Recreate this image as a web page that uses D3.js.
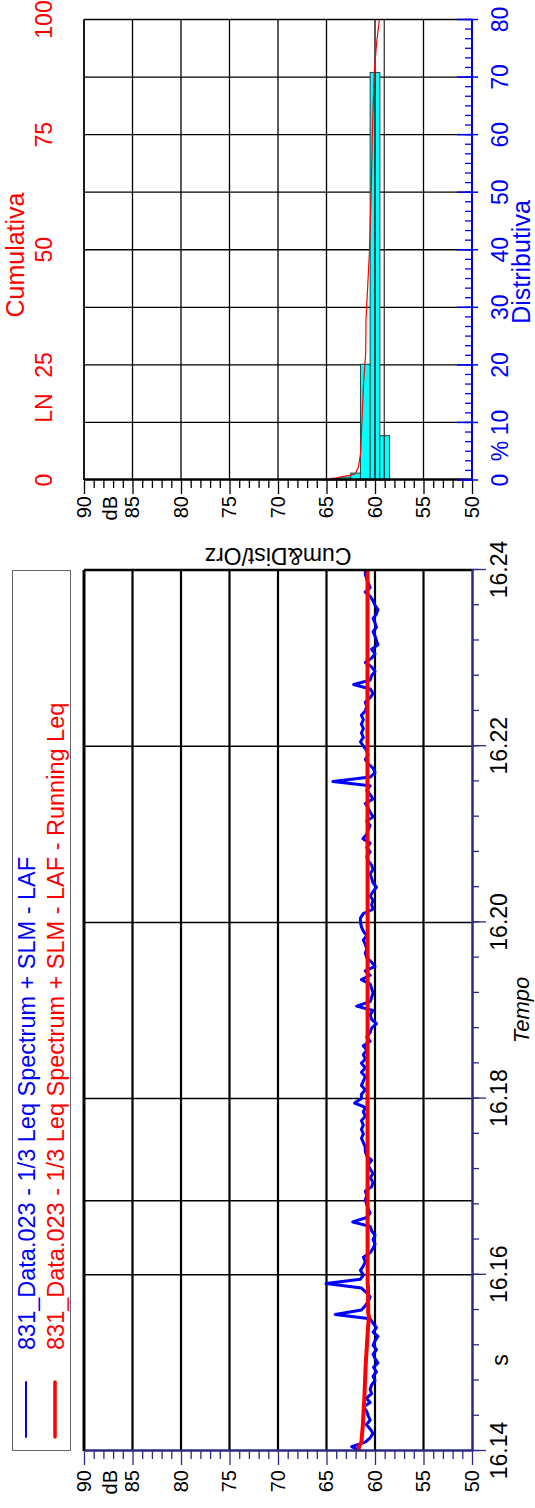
<!DOCTYPE html>
<html>
<head>
<meta charset="utf-8">
<script src="https://cdn.jsdelivr.net/npm/d3@7"></script>
<style>
  body { margin: 0; background: #fff; }
  text { font-family: Arial, "Liberation Sans", sans-serif; }
</style>
</head>
<body>
<svg id="chart" width="535" height="1508"></svg>
<script>
// ---- data ----
var dbTicks = [90, 85, 80, 75, 70, 65, 60, 55, 50]
var timeTicks = [16.14, 16.16, 16.18, 16.20, 16.22, 16.24]
var timeGrid = [16.16, 16.1684, 16.18, 16.20, 16.22]
var pctTicks = [0, 10, 20, 30, 40, 50, 60, 70, 80]
var lnTicks = [0, 25, 50, 75, 100]

// LAF, one sample every 0.0005 from 16.14
var lafStart = 16.14
var lafStep = 0.0005
var lafValues = [
  61.5, 62.4, 61.0, 60.5, 60.2, 60.5, 60.9, 60.5, 60.7, 60.85,
  61.2, 60.5, 60.9, 60.35, 60.5, 60.35, 60.0, 60.2, 59.85, 60.15,
  59.7, 60.0, 60.2, 59.85, 60.2, 60.0, 59.7, 60.2, 59.85, 60.2,
  60.5, 64.1, 61.4, 61.0, 60.7, 60.5, 60.9, 61.4, 65.05, 61.5,
  61.2, 61.5, 61.2, 61.0, 61.2, 60.5, 60.2, 60.0, 60.2, 60.0,
  60.35, 60.5, 62.3, 60.85, 60.5, 60.7, 60.85, 61.0, 60.85, 61.0,
  60.35, 60.2, 60.5, 60.2, 60.5, 60.7, 60.35, 60.85, 61.0, 61.0,
  61.2, 61.4, 61.2, 61.4, 61.2, 61.4, 61.0, 61.2, 61.0, 62.1,
  61.4, 61.4, 61.0, 61.4, 61.2, 61.0, 61.4, 61.0, 61.4, 61.0,
  61.2, 60.85, 61.2, 60.5, 60.85, 60.5, 60.35, 59.85, 60.35, 60.5,
  60.2, 61.9, 60.5, 60.35, 60.2, 60.35, 60.5, 61.4, 60.5, 61.0,
  60.0, 60.35, 60.85, 61.0, 60.85, 61.0, 61.2, 60.85, 61.2, 61.4,
  61.5, 61.5, 61.2, 60.2, 60.35, 60.2, 60.5, 60.2, 59.85, 60.2,
  60.35, 60.5, 60.2, 60.35, 60.7, 60.85, 60.5, 60.85, 60.5, 61.25,
  60.85, 60.7, 60.5, 60.85, 60.2, 60.5, 60.7, 61.0, 60.2, 60.5,
  60.85, 60.5, 64.35, 60.5, 60.0, 60.2, 60.7, 61.0, 60.7, 60.85,
  61.2, 61.5, 61.2, 61.4, 61.2, 61.4, 61.2, 61.4, 61.0, 60.85,
  61.0, 60.5, 60.2, 60.5, 62.2, 60.5, 60.35, 60.0, 60.35, 61.0,
  60.35, 60.0, 60.35, 59.7, 59.85, 60.0, 60.2, 59.85, 60.0, 60.2,
  59.85, 59.7, 60.0, 60.2, 60.5, 61.0, 60.5, 60.7, 60.85, 61.0,
  61.0
]

// Running Leq
var leqTimes = [16.14, 16.1405, 16.141, 16.143, 16.146, 16.150, 16.154, 16.1553, 16.1556, 16.1586, 16.159, 16.162, 16.18, 16.20, 16.22, 16.24]
var leqValues = [61.7, 61.65, 61.4, 61.25, 61.1, 60.95, 60.72, 60.62, 60.7, 60.72, 60.76, 60.76, 60.77, 60.76, 60.78, 60.77]

// distribution (1 dB classes) and cumulative LN
var binHigh = [65.5, 64.5, 63.5, 62.5, 61.5, 60.5, 59.5]
var binLow = [64.5, 63.5, 62.5, 61.5, 60.5, 59.5, 58.5]
var binPct = [0.1, 0.3, 0.5, 1.2, 20.1, 70.8, 7.7]
var cumDb = [65.05, 64.0, 63.5, 62.6, 62.06, 61.72, 61.48, 61.2, 60.96, 60.93, 60.58, 60.38, 60.24, 60.07, 59.83, 59.55]
var cumLn = [0, 0.4, 0.7, 1.0, 1.3, 2.7, 5.8, 20.3, 27.5, 34.7, 49.2, 63.7, 78.2, 88.7, 95.0, 100]

var cursorTime = 16.1684
var cursorDb = 59.05

// ---- layout: drawn landscape, then turned a quarter turn ----
var W = 1508
var navy = '#2a2a86'
var svg = d3.select('#chart')
var g = svg.append('g').attr('transform', 'translate(0,' + W + ') rotate(-90)')

var y = d3.scaleLinear().domain([90, 50]).range([84, 472])
var xT = d3.scaleLinear().domain([16.14, 16.24]).range([57, 938])
var xP = d3.scaleLinear().domain([0, 80]).range([1028, 1488.5])
var xL = d3.scaleLinear().domain([0, 100]).range([1028, 1488.5])

// ****************** legend ******************
g.append('rect')
  .attr('x', 57.5).attr('y', 12.5).attr('width', 880).attr('height', 58)
  .attr('fill', 'none').attr('stroke', '#666').attr('stroke-width', 1)

var legend = [
  { color: '#0000ff', w: 2, y: 26, label: '831_Data.023 - 1/3 Leq Spectrum + SLM - LAF' },
  { color: '#ff0000', w: 3.5, y: 55, label: '831_Data.023 - 1/3 Leq Spectrum + SLM - LAF - Running Leq' }
]
legend.forEach(function (d) {
  g.append('line').attr('x1', 71).attr('x2', 126).attr('y1', d.y).attr('y2', d.y)
    .attr('stroke', d.color).attr('stroke-width', d.w).attr('stroke-linecap', 'round')
  g.append('text').attr('x', 158).attr('y', d.y + 8.5)
    .attr('fill', d.color).attr('font-size', 23.5).text(d.label)
})

// ****************** left plot (time history) ******************
var left = g.append('g')

left.selectAll('line.tgrid').data(timeGrid).enter().append('line')
  .attr('x1', function (d) { return xT(d) }).attr('x2', function (d) { return xT(d) })
  .attr('y1', 84).attr('y2', 472)
  .attr('stroke', '#000').attr('stroke-width', 1.5)

left.selectAll('line.dgrid').data(dbTicks.slice(1, -1)).enter().append('line')
  .attr('x1', 57).attr('x2', 938)
  .attr('y1', function (d) { return y(d) }).attr('y2', function (d) { return y(d) })
  .attr('stroke', '#000').attr('stroke-width', 2.2)

left.append('clipPath').attr('id', 'clipL').append('rect')
  .attr('x', 57).attr('y', 84).attr('width', 881).attr('height', 388)

var laf = lafValues.map(function (v, i) { return [lafStart + i * lafStep, v] })
var line = d3.line().x(function (d) { return xT(d[0]) }).y(function (d) { return y(d[1]) })

left.append('path').datum(laf)
  .attr('clip-path', 'url(#clipL)')
  .attr('d', line).attr('fill', 'none')
  .attr('stroke', '#0000ff').attr('stroke-width', 3).attr('stroke-linejoin', 'round')

var leq = leqTimes.map(function (t, i) { return [t, leqValues[i]] })
left.append('path').datum(leq)
  .attr('clip-path', 'url(#clipL)')
  .attr('d', line).attr('fill', 'none')
  .attr('stroke', '#ff0000').attr('stroke-width', 4).attr('stroke-linejoin', 'round')

// frame
left.append('line').attr('x1', 57).attr('x2', 938).attr('y1', 84).attr('y2', 84)
  .attr('stroke', '#000').attr('stroke-width', 3)
left.append('line').attr('x1', 938).attr('x2', 938).attr('y1', 84).attr('y2', 472)
  .attr('stroke', '#000').attr('stroke-width', 2.5)

// dB axis
var minorDb = d3.range(51, 90).filter(function (d) { return d % 5 !== 0 })
left.append('g').attr('transform', 'translate(57,0)')
  .call(d3.axisLeft(y).tickValues(minorDb).tickSize(8).tickFormat('').tickSizeOuter(0))
  .call(styleAxis, navy)
left.append('g').attr('transform', 'translate(57,0)')
  .call(d3.axisLeft(y).tickValues(dbTicks).tickSize(14).tickPadding(5).tickSizeOuter(0))
  .call(styleAxis, navy)
  .selectAll('text').attr('font-size', 20).attr('fill', '#000')
left.append('text').attr('x', 38).attr('y', 117).attr('text-anchor', 'end')
  .attr('font-size', 20).text('dB')

// time axis
var minorT = d3.range(0, 26).map(function (k) { return 16.14 + k * 0.004 })
left.append('g').attr('transform', 'translate(0,472)')
  .call(d3.axisBottom(xT).tickValues(minorT).tickSize(7).tickFormat('').tickSizeOuter(0))
  .call(styleAxis, navy)
left.append('g').attr('transform', 'translate(0,472)')
  .call(d3.axisBottom(xT).tickValues(timeTicks).tickSize(14).tickPadding(5)
    .tickFormat(d3.format('.2f')).tickSizeOuter(0))
  .call(styleAxis, navy)
  .selectAll('text').attr('font-size', 23).attr('fill', '#000')

left.append('text').attr('x', 148).attr('y', 508).attr('text-anchor', 'middle')
  .attr('font-size', 23).text('s')
left.append('text').attr('x', 498).attr('y', 529).attr('text-anchor', 'middle')
  .attr('font-size', 22).attr('font-style', 'italic').text('Tempo')

// ****************** right plot (distribution) ******************
var right = g.append('g')

right.selectAll('line.pgrid').data(pctTicks.slice(1, -1)).enter().append('line')
  .attr('x1', function (d) { return xP(d) }).attr('x2', function (d) { return xP(d) })
  .attr('y1', 84).attr('y2', 472)
  .attr('stroke', '#000').attr('stroke-width', 1.3)

right.selectAll('rect.bar').data(binPct).enter().append('rect')
  .attr('x', xP(0))
  .attr('y', function (d, i) { return y(binHigh[i]) })
  .attr('width', function (d) { return xP(d) - xP(0) })
  .attr('height', function (d, i) { return y(binLow[i]) - y(binHigh[i]) })
  .attr('fill', '#00ffff').attr('stroke', '#1c4848').attr('stroke-width', 1)

right.selectAll('line.dgrid').data(dbTicks.slice(1, -1)).enter().append('line')
  .attr('x1', 1028).attr('x2', 1488.5)
  .attr('y1', function (d) { return y(d) }).attr('y2', function (d) { return y(d) })
  .attr('stroke', '#000').attr('stroke-width', 1.3)

right.append('line').attr('x1', 1028).attr('x2', 1488.5)
  .attr('y1', y(cursorDb)).attr('y2', y(cursorDb))
  .attr('stroke', '#000').attr('stroke-width', 1)

var cum = cumDb.map(function (v, i) { return [cumLn[i], v] })
right.append('path').datum(cum)
  .attr('d', d3.line().x(function (d) { return xL(d[0]) }).y(function (d) { return y(d[1]) }))
  .attr('fill', 'none').attr('stroke', '#ff0000').attr('stroke-width', 1.2)

// frame
right.append('line').attr('x1', 1028).attr('x2', 1488.5).attr('y1', 84).attr('y2', 84)
  .attr('stroke', '#000').attr('stroke-width', 1.8)
right.append('line').attr('x1', 1488.5).attr('x2', 1488.5).attr('y1', 84).attr('y2', 472)
  .attr('stroke', '#000').attr('stroke-width', 1.5)

// dB axis of the distribution
right.append('g').attr('transform', 'translate(1028,0)')
  .call(d3.axisLeft(y).tickValues(minorDb).tickSize(8).tickFormat('').tickSizeOuter(0))
  .call(styleAxis, '#000')
right.append('g').attr('transform', 'translate(1028,0)')
  .call(d3.axisLeft(y).tickValues(dbTicks).tickSize(14).tickPadding(2).tickSizeOuter(0))
  .call(styleAxis, '#000')
  .selectAll('text').attr('font-size', 20).attr('fill', '#000')
right.append('text').attr('x', 1012).attr('y', 117).attr('text-anchor', 'end')
  .attr('font-size', 20).text('dB')

// % axis (blue)
var minorP = d3.range(0, 49).map(function (k) { return k * 10 / 6 })
right.selectAll('line.pminor').data(minorP).enter().append('line')
  .attr('x1', function (d) { return xP(d) }).attr('x2', function (d) { return xP(d) })
  .attr('y1', 465).attr('y2', 472)
  .attr('stroke', '#0000ff').attr('stroke-width', 1.3)
right.selectAll('line.pmajor').data(pctTicks).enter().append('line')
  .attr('x1', function (d) { return xP(d) }).attr('x2', function (d) { return xP(d) })
  .attr('y1', 457).attr('y2', 478)
  .attr('stroke', '#0000ff').attr('stroke-width', 1.5)
right.append('line').attr('x1', 1028).attr('x2', 1488.5).attr('y1', 472).attr('y2', 472)
  .attr('stroke', '#0000ff').attr('stroke-width', 2)
right.selectAll('text.pct').data(pctTicks).enter().append('text')
  .attr('x', function (d) { return xP(d) }).attr('y', 508)
  .attr('text-anchor', 'middle').attr('font-size', 23).attr('fill', '#0000ff')
  .text(function (d) { return d })
right.append('text').attr('x', 1057).attr('y', 508).attr('text-anchor', 'middle')
  .attr('font-size', 23).attr('fill', '#0000ff').text('%')
right.append('text').attr('x', 1246).attr('y', 530).attr('text-anchor', 'middle')
  .attr('font-size', 25).attr('fill', '#0000ff').text('Distributiva')

// LN axis (red, on top)
right.selectAll('text.ln').data(lnTicks).enter().append('text')
  .attr('x', function (d) { return xL(d) }).attr('y', 52)
  .attr('text-anchor', 'middle').attr('font-size', 23).attr('fill', '#ff0000')
  .text(function (d) { return d })
right.append('text').attr('x', 1100).attr('y', 52).attr('text-anchor', 'middle')
  .attr('font-size', 23).attr('fill', '#ff0000').text('LN')
right.append('text').attr('x', 1253).attr('y', 24).attr('text-anchor', 'middle')
  .attr('font-size', 25).attr('fill', '#ff0000').text('Cumulativa')

// label between the plots, reading the other way
g.append('text').attr('transform', 'translate(960,278) rotate(-90)')
  .attr('text-anchor', 'middle').attr('font-size', 23).text('Cum&Dist/Orz')

function styleAxis(sel, color) {
  sel.select('.domain').attr('stroke', color).attr('stroke-width', 2)
  sel.selectAll('.tick line').attr('stroke', color).attr('stroke-width', 1.3)
}
</script>
</body>
</html>
